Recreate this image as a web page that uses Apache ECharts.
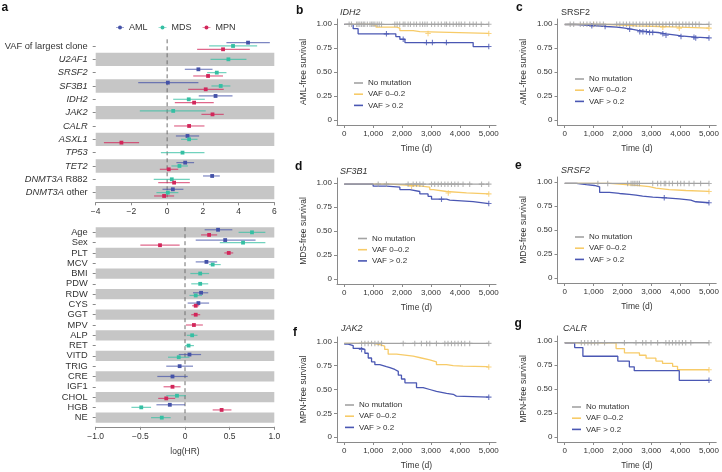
<!DOCTYPE html>
<html><head><meta charset="utf-8">
<script src="https://cdn.jsdelivr.net/npm/echarts@6/dist/echarts.min.js"></script>
<style>html,body{margin:0;padding:0;background:#fff}#c{width:722px;height:472px}</style>
</head><body><div id="c"></div>
<script>
// ---------- Panel a data: [estimate, low, high] log(HR) ----------
const topRows = ['VAF of largest clone','U2AF1','SRSF2','SF3B1','IDH2','JAK2','CALR','ASXL1','TP53','TET2','DNMT3A R882','DNMT3A other'];
const topAML = [[4.53,3.32,5.75],null,[1.75,0.99,2.54],[0.04,-1.62,1.75],[2.71,1.77,3.66],null,null,[1.14,0.49,1.79],null,[1.01,0.52,1.51],[2.52,2.01,2.95],[0.32,-0.26,0.91]];
const topMDS = [[3.69,2.35,5.04],[3.43,2.43,4.44],[2.78,2.24,3.32],[3.0,2.48,3.54],[1.21,0.34,2.11],[0.34,-1.53,2.16],null,[1.23,0.78,1.70],[0.86,-0.35,2.09],[0.69,0.24,1.16],[0.26,-0.75,1.27],[0.04,-0.6,0.63]];
const topMPN = [[3.13,1.68,4.63],null,[2.29,1.46,3.13],[2.16,1.18,3.17],[1.51,0.43,2.61],[2.54,1.92,3.17],[1.23,0.39,2.09],[-2.56,-3.54,-1.57],null,[0.09,-0.41,0.62],[0.39,-0.5,1.27],[-0.17,-0.73,0.39]];

const botRows = ['Age','Sex','PLT','MCV','BMI','PDW','RDW','CYS','GGT','MPV','ALP','RET','VITD','TRIG','CRE','IGF1','CHOL','HGB','NE'];
const botAML = [[0.37,0.22,0.53],[0.45,0.12,0.79],null,[0.24,0.12,0.36],null,null,[0.18,0.09,0.26],[0.15,0.03,0.27],null,null,null,null,[0.05,-0.07,0.18],[-0.06,-0.21,0.09],[-0.14,-0.31,0.03],null,null,[-0.17,-0.32,0.0],null];
const botMDS = [[0.75,0.60,0.90],[0.65,0.39,0.90],null,[0.31,0.27,0.40],[0.17,0.06,0.27],[0.17,0.07,0.26],[0.12,0.05,0.19],null,null,null,[0.08,0.02,0.14],[0.04,0.0,0.10],[-0.07,-0.19,0.05],null,null,null,[-0.09,-0.21,0.01],[-0.49,-0.60,-0.38],[-0.26,-0.38,-0.16]];
const botMPN = [[0.27,0.18,0.36],[-0.28,-0.50,-0.06],[0.49,0.44,0.54],null,null,null,null,[0.12,0.08,0.16],[0.12,0.07,0.17],[0.10,0.01,0.20],null,null,null,null,null,[-0.14,-0.24,-0.05],[-0.21,-0.30,-0.11],[0.41,0.31,0.52],null];

const forestGroups = ['AML','MDS','MPN'];

// ---------- Panels b-g: Kaplan–Meier steps [time (d), survival] ----------
const kmGroups = ['No mutation','VAF 0–0.2','VAF > 0.2'];
const timeTicks = [0,1000,2000,3000,4000,5000];
const survTicks = [0,0.25,0.5,0.75,1];

const bNone = [[0,0.995],[5000,0.995]];
const bLow  = [[0,0.995],[890,0.986],[1100,0.965],[1810,0.955],[1925,0.93],[2385,0.92],[2615,0.90],[5000,0.90]];
const bHigh = [[0,0.995],[310,0.95],[480,0.896],[1785,0.868],[1925,0.84],[2100,0.805],[4460,0.764],[5000,0.764]];
const bNoneCens = [170,250,430,480,540,600,660,710,800,890,950,1000,1060,1140,1210,1290,1750,1830,1920,2040,2100,2210,2290,2410,2500,2620,2710,2790,2870,3020,3130,3250,3360,3480,3540,3650,3770,3880,3970,4050,4170,4340,4460,4570,4740,5000];
const bLowCens = [2900,5000];
const bHighCens = [1460,2040,2845,3050,3535,5000];

const cNone = [[0,0.995],[5000,0.995]];
const cLow  = [[0,0.993],[1570,0.979],[2480,0.972],[3280,0.965],[3970,0.955],[5000,0.955]];
const cHigh = [[0,0.993],[420,0.979],[1110,0.972],[1450,0.965],[1800,0.958],[2025,0.944],[2310,0.931],[2540,0.917],[2940,0.91],[3230,0.896],[3510,0.882],[3860,0.875],[4030,0.868],[4315,0.861],[4540,0.854],[5000,0.854]];
const cNoneCens = [190,310,540,650,770,880,1000,1110,1220,1340,1800,1910,2030,2140,2250,2370,2480,2600,2710,2830,2940,3050,3170,3280,3400,3510,3630,3740,3860,3970,4090,4200,4310,4430,4540,4660,5000];
const cLowCens = [1000,3400,3970,5000];
const cHighCens = [940,1400,2250,2600,2710,2830,2940,3050,3400,3510,4030,4480,4540,5000];

const dNone = [[0,0.986],[5000,0.986]];
const dLow  = [[0,0.986],[1580,0.975],[2270,0.965],[2670,0.955],[2960,0.93],[3080,0.91],[3540,0.895],[4230,0.885],[5000,0.885]];
const dHigh = [[0,0.986],[1000,0.965],[1460,0.955],[1925,0.93],[2270,0.91],[2615,0.885],[2900,0.86],[3020,0.83],[3540,0.82],[3650,0.805],[4460,0.785],[5000,0.785]];
const dNoneCens = [1175,1460,2210,2385,2500,2615,2730,3020,3130,3250,3360,3480,3590,3710,3825,3940,4110,4340,4750,5000];
const dLowCens = [2330,3600,5000];
const dHighCens = [3365,5000];

const eNone = [[0,0.983],[5000,0.983]];
const eLow  = [[0,0.983],[1550,0.97],[2130,0.96],[2590,0.95],[2930,0.935],[3160,0.92],[3620,0.91],[4200,0.90],[5000,0.90]];
const eHigh = [[0,0.983],[400,0.97],[750,0.962],[1030,0.948],[1210,0.89],[1550,0.879],[1900,0.869],[2240,0.862],[2470,0.852],[2700,0.841],[3050,0.834],[3500,0.824],[3970,0.81],[4370,0.793],[4540,0.783],[5000,0.783]];
const eNoneCens = [1150,1490,2180,2300,2360,2410,2470,2530,2590,3050,3220,3330,3450,3500,3620,3735,3910,4020,4140,4310,4480,4710,5000];
const eLowCens = [5000];
const eHighCens = [3450,5000];

const fNone = [[0,0.983],[5000,0.983]];
const fLow  = [[0,0.983],[1000,0.97],[1230,0.955],[1400,0.92],[1520,0.87],[1810,0.86],[2100,0.85],[2385,0.83],[2670,0.81],[2960,0.79],[3190,0.76],[3540,0.75],[3770,0.745],[4110,0.74],[4920,0.735],[5000,0.735]];
const fHigh = [[0,0.975],[140,0.96],[310,0.93],[600,0.92],[715,0.88],[830,0.83],[945,0.79],[1060,0.76],[1230,0.74],[1460,0.73],[1580,0.71],[1750,0.69],[1870,0.65],[1980,0.61],[2100,0.57],[2500,0.52],[2730,0.50],[2960,0.48],[3190,0.46],[3540,0.45],[3770,0.43],[3880,0.42],[5000,0.42]];
const fNoneCens = [600,715,830,945,1060,1175,1290,2040,2440,2670,2850,2960,3190,3480,3590,3710,3825,3940,4055,4170,4340,5000];
const fLowCens = [5000];
const fHighCens = [600,5000];

const gNone = [[0,0.98],[5000,0.98]];
const gLow  = [[0,0.98],[1780,0.92],[2070,0.875],[2590,0.85],[2820,0.82],[3160,0.79],[3390,0.765],[3740,0.735],[3910,0.70],[5000,0.70]];
const gHigh = [[0,0.98],[345,0.93],[630,0.84],[1840,0.79],[2240,0.73],[2410,0.69],[3970,0.59],[5000,0.59]];
const gNoneCens = [575,690,805,920,1035,1150,1380,2070,2470,2700,2815,2990,3220,3505,3620,3735,3850,3965,4080,4195,4370,5000];
const gLowCens = [5000];
const gHighCens = [5000];

// ---------- styling / layout ----------
const FONT = 'Liberation Sans';
const TXT = '#333';
const AX = '#8a8a8a';
const forestColors = ['#4452a8','#35bfa3','#d2265a'];
const kmColors = ['#a3a3a3','#f7cb68','#4a57b3'];
const BAND = '#c6c6c6';

const panels = [
  {letter:'b', gene:'IDH2',  italic:true,  yname:'AML-free survival', curves:[bNone,bLow,bHigh], cens:[bNoneCens,bLowCens,bHighCens], grid:{left:337,top:19,width:159,height:106}, lt:[354,78], gt:[340,8], letterPos:[296,4.5]},
  {letter:'c', gene:'SRSF2', italic:false, yname:'AML-free survival', curves:[cNone,cLow,cHigh], cens:[cNoneCens,cLowCens,cHighCens], grid:{left:557.5,top:19,width:160,height:106}, lt:[575,74], gt:[561,8], letterPos:[516,2]},
  {letter:'d', gene:'SF3B1', italic:true,  yname:'MDS-free survival', curves:[dNone,dLow,dHigh], cens:[dNoneCens,dLowCens,dHighCens], grid:{left:337,top:178,width:159,height:106}, lt:[358,233.5], gt:[340,167], letterPos:[295,160.5]},
  {letter:'e', gene:'SRSF2', italic:true,  yname:'MDS-free survival', curves:[eNone,eLow,eHigh], cens:[eNoneCens,eLowCens,eHighCens], grid:{left:557.5,top:177,width:160,height:106}, lt:[575,232], gt:[561,166], letterPos:[515,159.5]},
  {letter:'f', gene:'JAK2',  italic:true,  yname:'MPN-free survival', curves:[fNone,fLow,fHigh], cens:[fNoneCens,fLowCens,fHighCens], grid:{left:337,top:337,width:159,height:105}, lt:[345,400], gt:[341,324], letterPos:[293,327]},
  {letter:'g', gene:'CALR',  italic:true,  yname:'MPN-free survival', curves:[gNone,gLow,gHigh], cens:[gNoneCens,gLowCens,gHighCens], grid:{left:557.5,top:336,width:160,height:106}, lt:[572,402], gt:[563,324], letterPos:[514.5,318]}
];

function survAt(curve, t){ let s = curve[0][1]; for (const p of curve){ if (p[0] <= t) s = p[1]; } return s; }
const minus = s => String(s).replace('-', '\u2212');

function rowOffsets(a, b, c){
  return a.map((_, i) => {
    const pres = [a[i], b[i], c[i]].map(v => !!v);
    const n = pres.filter(Boolean).length;
    const offs = n === 3 ? [-0.25, 0, 0.25] : n === 2 ? [-0.13, 0.13] : [0];
    const res = [null, null, null]; let k = 0;
    pres.forEach((p, j) => { if (p) res[j] = offs[k++]; });
    return res;
  });
}

function forestSeries(name, arr, gi, offs, xi, yi){
  const color = forestColors[gi];
  const data = [];
  arr.forEach((v, i) => { if (v) data.push([i + offs[i][gi], v[0], v[1], v[2]]); });
  return {
    type:'custom', name, xAxisIndex:xi, yAxisIndex:yi, itemStyle:{color}, data,
    encode:{x:[1,2,3], y:0}, z:5,
    renderItem(params, api){
      const y = api.value(0);
      const p0 = api.coord([api.value(2), y]), p1 = api.coord([api.value(3), y]), pc = api.coord([api.value(1), y]);
      return {type:'group', children:[
        {type:'line', shape:{x1:p0[0], y1:p0[1], x2:p1[0], y2:p1[1]}, style:{stroke:color, lineWidth:1.2, opacity:0.7}},
        {type:'rect', shape:{x:pc[0]-1.9, y:pc[1]-1.9, width:3.8, height:3.8}, style:{fill:color}}
      ]};
    }
  };
}

const topOffs = rowOffsets(topAML, topMDS, topMPN);
const botOffs = rowOffsets(botAML, botMDS, botMPN);

const grids = [
  {left:95.7, top:39.3, width:178.6, height:160},
  {left:95.7, top:227.2, width:178.6, height:195.6}
];
const xAxes = [
  {type:'value', gridIndex:0, min:-4, max:6, interval:2, offset:3, splitLine:{show:false},
   axisLine:{onZero:false, lineStyle:{color:AX}}, axisTick:{length:3, lineStyle:{color:AX}},
   axisLabel:{fontFamily:FONT, fontSize:8.5, color:TXT, margin:5, formatter:v => minus(v)}},
  {type:'value', gridIndex:1, min:-1, max:1, interval:0.5, offset:4, splitLine:{show:false},
   axisLine:{onZero:false, lineStyle:{color:AX}}, axisTick:{length:3, lineStyle:{color:AX}},
   axisLabel:{fontFamily:FONT, fontSize:8.5, color:TXT, margin:5, formatter:v => v === 0 ? '0' : minus(v.toFixed(1))},
   name:'log(HR)', nameLocation:'middle', nameGap:20, nameTextStyle:{fontFamily:FONT, fontSize:8.5, color:TXT}}
];
const catLabel = (italicAll) => ({
  fontFamily:FONT, fontSize:9.3, color:TXT, margin:8, interval:0,
  formatter: v => {
    if (!italicAll || v === 'VAF of largest clone') return v;
    if (v.indexOf('DNMT3A ') === 0) return '{i|DNMT3A} ' + v.slice(7);
    return '{i|' + v + '}';
  },
  rich:{i:{fontStyle:'italic', fontFamily:FONT, fontSize:9.3, color:TXT}}
});
const yAxes = [
  {type:'category', gridIndex:0, data:topRows, inverse:true, axisLine:{show:false, onZero:false},
   axisTick:{show:true, alignWithLabel:true, interval:0, length:3, lineStyle:{color:AX}},
   axisLabel:catLabel(true), splitLine:{show:false},
   splitArea:{show:true, interval:0, areaStyle:{color:['rgba(0,0,0,0)', BAND]}}},
  {type:'value', gridIndex:0, min:-0.5, max:topRows.length - 0.5, inverse:true, show:false, splitLine:{show:false}},
  {type:'category', gridIndex:1, data:botRows, inverse:true, axisLine:{show:false, onZero:false},
   axisTick:{show:true, alignWithLabel:true, interval:0, length:3, lineStyle:{color:AX}},
   axisLabel:catLabel(false), splitLine:{show:false},
   splitArea:{show:true, interval:0, areaStyle:{color:[BAND, 'rgba(0,0,0,0)']}}},
  {type:'value', gridIndex:1, min:-0.5, max:botRows.length - 0.5, inverse:true, show:false, splitLine:{show:false}}
];

const series = [
  // zero reference lines
  {type:'line', xAxisIndex:0, yAxisIndex:1, data:[[0,-0.5],[0,topRows.length-0.5]], showSymbol:false, silent:true,
   lineStyle:{color:'#6f6f6f', width:1, type:[4,3]}, z:3},
  {type:'line', xAxisIndex:1, yAxisIndex:3, data:[[0,-0.5],[0,botRows.length-0.5]], showSymbol:false, silent:true,
   lineStyle:{color:'#6f6f6f', width:1, type:[4,3]}, z:3},
  forestSeries('AML', topAML, 0, topOffs, 0, 1),
  forestSeries('MDS', topMDS, 1, topOffs, 0, 1),
  forestSeries('MPN', topMPN, 2, topOffs, 0, 1),
  forestSeries('AML', botAML, 0, botOffs, 1, 3),
  forestSeries('MDS', botMDS, 1, botOffs, 1, 3),
  forestSeries('MPN', botMPN, 2, botOffs, 1, 3)
];

const titles = [{text:'a', left:1.5, top:1.5, padding:0, textStyle:{fontFamily:FONT, fontSize:12, fontWeight:'bold', color:'#111'}}];
const legends = [{
  data:forestGroups, left:116, top:23, padding:0, itemGap:11, itemWidth:8, itemHeight:5,
  icon:'path://M0,2.2H8V2.8H0Z M4,0.5A2,2,0,1,1,3.99,0.5Z',
  textStyle:{fontFamily:FONT, fontSize:9, color:TXT}, selectedMode:false
}];

const plusSym = 'path://M2,0H3V2H5V3H3V5H2V3H0V2H2Z';

panels.forEach((p, k) => {
  const gi = grids.length;
  grids.push(p.grid);
  xAxes.push({type:'value', gridIndex:gi, min:-250, max:5250, splitLine:{show:false},
    axisLine:{onZero:false, lineStyle:{color:AX}}, axisTick:{length:3, lineStyle:{color:AX}, customValues:timeTicks},
    axisLabel:{fontFamily:FONT, fontSize:8, color:TXT, margin:5, customValues:timeTicks,
      formatter:v => Number(v).toLocaleString('en-US')},
    name:'Time (d)', nameLocation:'middle', nameGap:19, nameTextStyle:{fontFamily:FONT, fontSize:8.5, color:TXT}});
  yAxes.push({type:'value', gridIndex:gi, min:-0.05, max:1.05, splitLine:{show:false},
    axisLine:{show:true, onZero:false, lineStyle:{color:AX}}, axisTick:{show:true, length:3, lineStyle:{color:AX}, customValues:survTicks},
    axisLabel:{fontFamily:FONT, fontSize:8, color:TXT, margin:5, customValues:survTicks,
      formatter:v => v === 0 ? '0' : Number(v).toFixed(2)},
    name:p.yname, nameLocation:'middle', nameGap:29, nameRotate:90, nameTextStyle:{fontFamily:FONT, fontSize:8.5, color:TXT}});
  const xi = xAxes.length - 1, yi = yAxes.length - 1;
  p.curves.forEach((curve, g) => {
    series.push({type:'line', name:kmGroups[g], xAxisIndex:xi, yAxisIndex:yi, data:curve, step:'end',
      showSymbol:false, color:kmColors[g], lineStyle:{width:1.3, color:kmColors[g]}, z: g === 0 ? 4 : 3});
  });
  p.cens.forEach((cs, g) => {
    series.push({type:'scatter', name:kmGroups[g], xAxisIndex:xi, yAxisIndex:yi,
      data:cs.map(t => [t, survAt(p.curves[g], t)]), symbol:plusSym, symbolSize:5.5,
      itemStyle:{color:kmColors[g]}, z: g === 0 ? 4 : 3});
  });
  titles.push({text:p.letter, left:p.letterPos[0], top:p.letterPos[1], padding:0, textStyle:{fontFamily:FONT, fontSize:12, fontWeight:'bold', color:'#111'}});
  titles.push({text:p.gene, left:p.gt[0], top:p.gt[1], padding:0, textStyle:{fontFamily:FONT, fontSize:9, fontWeight:'normal', fontStyle:p.italic ? 'italic' : 'normal', color:TXT}});
  legends.push({data:kmGroups, orient:'vertical', left:p.lt[0], top:p.lt[1], padding:0, itemGap:1.2, itemWidth:9, itemHeight:1.6,
    icon:'rect', selectedMode:false, textStyle:{fontFamily:FONT, fontSize:8, color:TXT, lineHeight:10}});
});

const chart = echarts.init(document.getElementById('c'), null, {renderer:'canvas'});
chart.setOption({
  animation:false, backgroundColor:'#fff',
  title:titles, legend:legends, grid:grids, xAxis:xAxes, yAxis:yAxes, series
});
</script></body></html>
